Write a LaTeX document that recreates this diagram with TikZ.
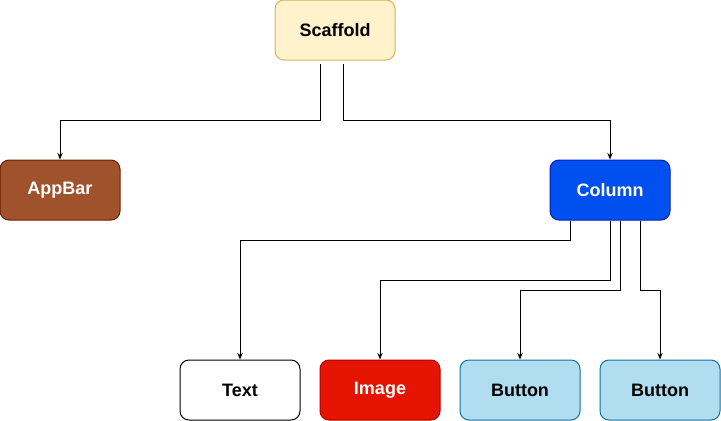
\documentclass[tikz,border=0pt]{standalone}
\usepackage{fontspec}
\setmainfont{Liberation Sans}
\usetikzlibrary{arrows.meta}
\definecolor{scafill}{HTML}{FFF2CC}
\definecolor{scadraw}{HTML}{D6B656}
\definecolor{appfill}{HTML}{A0522D}
\definecolor{appdraw}{HTML}{6D1F00}
\definecolor{colfill}{HTML}{0050EF}
\definecolor{coldraw}{HTML}{001DBC}
\definecolor{imgfill}{HTML}{E51400}
\definecolor{imgdraw}{HTML}{B20000}
\definecolor{btnfill}{HTML}{B1DDF0}
\definecolor{btndraw}{HTML}{10739E}
\tikzset{
  box/.style={draw, rounded corners=6.75pt, minimum width=90pt, minimum height=45pt, inner sep=0pt, font=\fontsize{13.5}{16}\selectfont\bfseries, line width=0.75pt},
  conn/.style={draw=black, line width=0.75pt, -{Stealth[length=5pt,width=4pt]}},
}
\begin{document}
\begin{tikzpicture}[x=0.75pt,y=-0.75pt]
\useasboundingbox (0,0) rectangle (721,421);
\node[box, fill=scafill, draw=scadraw] (scaf) at (335,30) {Scaffold};
\node[box, fill=appfill, draw=appdraw, text=white] (app) at (60,190) {AppBar};
\node[box, fill=colfill, draw=coldraw, text=white] (col) at (610,190) {Column};
\node[box, fill=white, draw=black] (txt) at (240,390) {Text};
\node[box, fill=imgfill, draw=imgdraw, text=white] (img) at (380,390) {Image};
\node[box, fill=btnfill, draw=btndraw] (b1) at (520,390) {Button};
\node[box, fill=btnfill, draw=btndraw] (b2) at (660,390) {Button};
\coordinate (s1) at (320,64);
\coordinate (s2) at (343,64);
\draw[conn] (s1) -- (320,120) -| (app.north);
\draw[conn] (s2) -- (343,120) -| (col.north);
\draw[conn] (col.south -| 570,0) -- (570,240) -| (txt.north);
\draw[conn] (col.south) -- (610,280) -| (img.north);
\draw[conn] (col.south -| 620,0) -- (620,290) -| (b1.north);
\draw[conn] (col.south -| 640,0) -- (640,290) -| (b2.north);
\end{tikzpicture}
\end{document}
